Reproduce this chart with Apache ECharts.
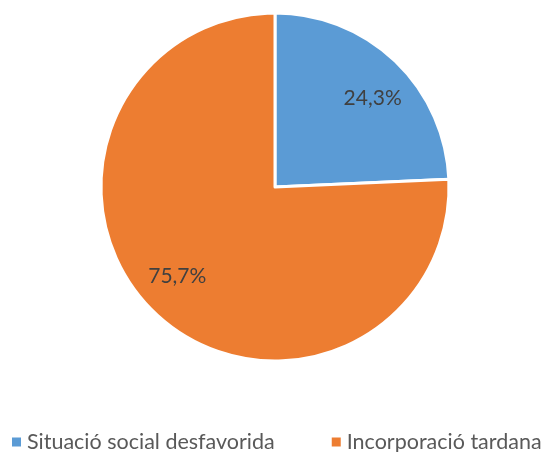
<!DOCTYPE html>
<html><head><meta charset="utf-8">
<script src="https://cdn.jsdelivr.net/npm/echarts@6/dist/echarts.min.js"></script>
<style>html,body{margin:0;padding:0;background:#fff}#c{width:551px;height:452px}</style>
</head><body><div id="c"></div>
<script>
const categories = ['Situació social desfavorida', 'Incorporació tardana'];
const values = [24.3, 75.7];
const colors = ['#5B9BD5', '#ED7D31'];
const fmt = p => p.value.toFixed(1).replace('.', ',') + '%';
const chart = echarts.init(document.getElementById('c'));
const center = [275, 187];
chart.setOption({
  animation: false,
  color: colors,
  legend: {
    top: 426, left: 5, padding: 5,
    icon: 'rect', itemWidth: 11, itemHeight: 11, itemGap: 55,
    textStyle: { fontFamily: 'Lato', fontSize: 21.5, color: '#595959' },
    data: categories
  },
  series: [{
    type: 'pie', center: center, radius: [0, 174], startAngle: 90, clockwise: true,
    itemStyle: { borderColor: '#fff', borderWidth: 3 },
    label: { show: false }, labelLine: { show: false }, silent: true,
    data: categories.map((n, i) => ({ name: n, value: values[i] }))
  }, {
    type: 'pie', center: center, radius: [0, 258], startAngle: 86, clockwise: true,
    itemStyle: { color: 'rgba(0,0,0,0)' }, silent: true,
    label: { show: true, position: 'inside', formatter: fmt, fontFamily: 'Lato', fontSize: 21, color: '#404040' },
    labelLine: { show: false },
    data: categories.map((n, i) => ({ name: n, value: values[i] }))
  }]
});
</script></body></html>
